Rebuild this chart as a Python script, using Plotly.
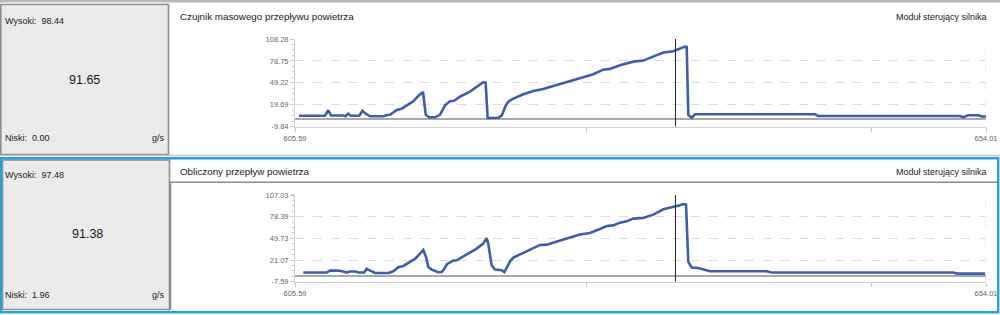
import plotly.graph_objects as go

# ---------------- data ----------------
x_top = [605.87, 607.69, 607.92, 608.11, 608.97, 609.14, 609.32, 609.51, 610.10, 610.31,
         610.50, 610.85, 611.78, 612.02, 612.25, 612.72, 613.07, 613.42, 613.88, 614.23,
         614.47, 614.56, 614.75, 614.98, 615.40, 615.75, 616.10, 616.45, 616.73, 617.15,
         617.85, 618.55, 618.78, 618.95, 619.09, 619.84, 620.07, 620.38, 620.54, 620.89,
         621.59, 622.29, 622.99, 623.69, 624.63, 625.56, 626.49, 627.19, 627.66, 628.36,
         629.30, 629.99, 630.70, 631.40, 632.10, 632.57, 632.92, 633.04, 633.15, 633.39,
         633.62, 642.03, 642.26, 652.19, 652.42, 652.77, 653.47, 653.71, 654.01]
y_top = [5.0, 5.0, 12.3, 5.2, 5.2, 4.2, 7.7, 5.0, 5.0, 11.7,
         8.2, 4.2, 4.2, 5.9, 6.2, 12.7, 14.4, 19.0, 24.4, 31.6,
         36.5, 36.9, 6.4, 2.8, 2.8, 6.2, 19.0, 24.4, 25.0, 30.6,
         37.4, 46.0, 50.0, 49.6, 1.9, 2.3, 5.0, 19.4, 23.9, 28.0,
         33.8, 38.3, 41.0, 45.0, 50.0, 55.4, 60.8, 67.0, 68.0, 73.0,
         77.8, 79.2, 84.5, 90.0, 91.8, 95.9, 98.0, 97.5, 5.9, 2.3,
         6.9, 6.9, 4.6, 4.6, 2.8, 5.5, 5.5, 3.8, 3.8]

x_bot = [606.17, 607.81, 608.04, 608.62, 608.97, 609.21, 609.44, 609.86, 610.03, 610.43,
         610.61, 610.85, 611.20, 612.13, 612.48, 612.83, 613.18, 613.65, 614.00, 614.35,
         614.58, 614.77, 614.93, 615.17, 615.63, 615.87, 616.03, 616.26, 616.68, 616.92,
         617.38, 617.85, 618.32, 618.78, 619.02, 619.13, 619.37, 619.60, 620.07, 620.26,
         620.42, 620.66, 620.89, 621.59, 622.29, 622.76, 623.23, 623.93, 624.63, 625.56,
         626.26, 626.96, 627.43, 627.89, 628.36, 628.83, 629.30, 629.99, 630.70, 631.40,
         632.10, 632.57, 632.80, 632.99, 633.15, 633.39, 633.85, 634.67, 638.64, 638.99,
         651.72, 651.96, 653.94]
y_bot = [4.5, 4.5, 7.1, 7.1, 5.8, 4.5, 5.8, 5.8, 4.5, 4.5,
         9.3, 7.1, 4.0, 4.0, 6.2, 11.5, 13.2, 18.5, 22.5, 29.6,
         34.3, 25.1, 11.9, 8.4, 4.9, 5.3, 8.8, 15.9, 20.3, 20.7,
         26.0, 30.9, 36.2, 42.8, 50.2, 42.8, 14.1, 8.4, 7.5, 5.0,
         10.6, 19.4, 24.3, 30.9, 37.0, 41.0, 41.4, 44.9, 49.4, 54.7,
         56.8, 62.0, 66.0, 66.9, 70.5, 72.2, 75.8, 76.6, 81.1, 88.1,
         90.7, 93.4, 95.1, 94.7, 18.5, 11.1, 10.6, 6.2, 6.2, 4.5,
         4.5, 3.1, 3.1]

x_min, x_max = 605.59, 654.01
x_tick_vals = [605.59, 626.0, 646.0, 654.01]
x_tick_text = ["605.59", "", "", "654.01"]
cursor_x = 632.25

top_y_ticks = [-9.84, 19.69, 49.22, 78.75, 108.28]
bot_y_ticks = [-7.59, 21.07, 49.73, 78.39, 107.03]

top_title = "Czujnik masowego przepływu powietrza"
bot_title = "Obliczony przepływ powietrza"
module_name = "Moduł sterujący silnika"
top_stats = {"high": "98.44", "value": "91.65", "low": "0.00"}
bot_stats = {"high": "97.48", "value": "91.38", "low": "1.96"}
unit = "g/s"

# ---------------- layout helpers ----------------
W, H = 1000, 315
def px(x):
    return x / W
def py(y):
    return 1 - y / H

LINE = "#3d5fa9"
FONT = "Liberation Sans"

fig = go.Figure()
fig.add_trace(go.Scatter(x=x_top, y=y_top, mode="lines", xaxis="x", yaxis="y",
                         line=dict(color=LINE, width=2.6), hoverinfo="skip"))
fig.add_trace(go.Scatter(x=x_bot, y=y_bot, mode="lines", xaxis="x2", yaxis="y2",
                         line=dict(color=LINE, width=2.6), hoverinfo="skip"))

def xaxis_cfg(anchor):
    return dict(domain=[px(295), px(986)], range=[x_min, x_max], anchor=anchor,
                automargin=False,
                tickvals=x_tick_vals, ticktext=x_tick_text, ticks="outside", ticklen=4,
                tickcolor="#c8c8c8", showline=True, linecolor="#cfcfcf", linewidth=1,
                showgrid=False, zeroline=False,
                tickfont=dict(family=FONT, size=7.5, color="#666666"))

def yaxis_cfg(anchor, ticks, top_px, bot_px):
    step = ticks[1] - ticks[0]
    return dict(domain=[py(bot_px), py(top_px)], range=[ticks[0] - 0.01, ticks[-1] + 0.01],
                anchor=anchor, automargin=False,
                tickvals=ticks, ticktext=[f"{t:.2f}" for t in ticks],
                ticks="outside", ticklen=4, tickcolor="#c8c8c8",
                showline=True, linecolor="#cfcfcf", linewidth=1,
                showgrid=True, gridcolor="#dcdcdc", griddash="dash", gridwidth=1,
                zeroline=True, zerolinecolor="#a9a9a9", zerolinewidth=2,
                minor=dict(tick0=ticks[0], dtick=step / 4, ticks="outside", ticklen=2,
                           tickcolor="#c8c8c8", showgrid=False),
                tickfont=dict(family=FONT, size=7.5, color="#666666"))

fig.update_layout(
    width=W, height=H, margin=dict(l=0, r=0, t=0, b=0, pad=0, autoexpand=False), autosize=False,
    paper_bgcolor="white", plot_bgcolor="white", showlegend=False,
    xaxis=xaxis_cfg("y"), yaxis=yaxis_cfg("x", top_y_ticks, 39, 126.7),
    xaxis2=xaxis_cfg("y2"), yaxis2=yaxis_cfg("x2", bot_y_ticks, 195, 281.7),
)

shapes = []
# top strip (panel above)
shapes.append(dict(type="rect", xref="paper", yref="paper", x0=0, x1=1, y0=py(2.6), y1=1,
                   fillcolor="#b9b9b9", line=dict(width=0), layer="below"))
# top panel left box
shapes.append(dict(type="rect", xref="paper", yref="paper", x0=px(0.8), x1=px(168.5),
                   y0=py(154.5), y1=py(4.5), fillcolor="#ebebeb",
                   line=dict(color="#8f8f8f", width=1.6), layer="below"))
# separation line under top panel
shapes.append(dict(type="line", xref="paper", yref="paper", x0=0, x1=1, y0=py(155.5), y1=py(155.5),
                   line=dict(color="#c4c4c4", width=1.5), layer="below"))
# bottom panel left box
shapes.append(dict(type="rect", xref="paper", yref="paper", x0=px(2.5), x1=px(169.5),
                   y0=py(309.5), y1=py(160), fillcolor="#ebebeb",
                   line=dict(color="#8f8f8f", width=1.6), layer="below"))
# bottom chart sunken frame (top + left)
shapes.append(dict(type="line", xref="paper", yref="paper", x0=px(170), x1=px(997), y0=py(182.3), y1=py(182.3),
                   line=dict(color="#8c8c8c", width=1.6), layer="below"))
shapes.append(dict(type="line", xref="paper", yref="paper", x0=px(170.5), x1=px(170.5), y0=py(310), y1=py(182.3),
                   line=dict(color="#8c8c8c", width=1.6), layer="below"))
# selected panel blue border
shapes.append(dict(type="rect", xref="paper", yref="paper", x0=px(0.8), x1=px(998.2),
                   y0=py(312.3), y1=py(158.2), fillcolor="rgba(0,0,0,0)",
                   line=dict(color="#2a9fd8", width=2.4), layer="above"))

# dashed right border of plot areas and cursor lines
for xr, yr, ticks in (("x", "y", top_y_ticks), ("x2", "y2", bot_y_ticks)):
    shapes.append(dict(type="line", xref=xr, yref=yr, x0=x_max, x1=x_max, y0=ticks[0], y1=ticks[-1],
                       line=dict(color="#dcdcdc", width=1, dash="dash"), layer="below"))
    shapes.append(dict(type="line", xref=xr, yref=yr, x0=cursor_x, x1=cursor_x, y0=ticks[0], y1=ticks[-1] + 1.5,
                       line=dict(color="#222222", width=1), layer="above"))
fig.update_layout(shapes=shapes)

ann = []
def text(x, y, s, anchor="left", size=9, color="#1a1a1a"):
    ann.append(dict(xref="paper", yref="paper", x=px(x), y=py(y), text=s, showarrow=False,
                    xanchor=anchor, yanchor="middle",
                    font=dict(family=FONT, size=size, color=color)))

for (stats, title, y_high, y_val, y_low, y_title, x_val) in (
        (top_stats, top_title, 21.5, 80, 138.3, 16.5, 84.3),
        (bot_stats, bot_title, 175, 234.3, 295, 172, 87)):
    text(3, y_high, "Wysoki:  " + stats["high"])
    text(x_val, y_val, stats["value"], anchor="center", size=12.5)
    text(3, y_low, "Niski:  " + stats["low"])
    text(167, y_low, unit, anchor="right")
    text(178, y_title, title, size=9.8)
    text(989, y_title, module_name, anchor="right")

fig.update_layout(annotations=ann)
fig.write_html(
    "out.html",
    config={"responsive": False, "displayModeBar": False},
    post_script="document.body.style.margin='0';document.body.style.padding='0';"
                "document.documentElement.style.overflow='hidden';",
)
